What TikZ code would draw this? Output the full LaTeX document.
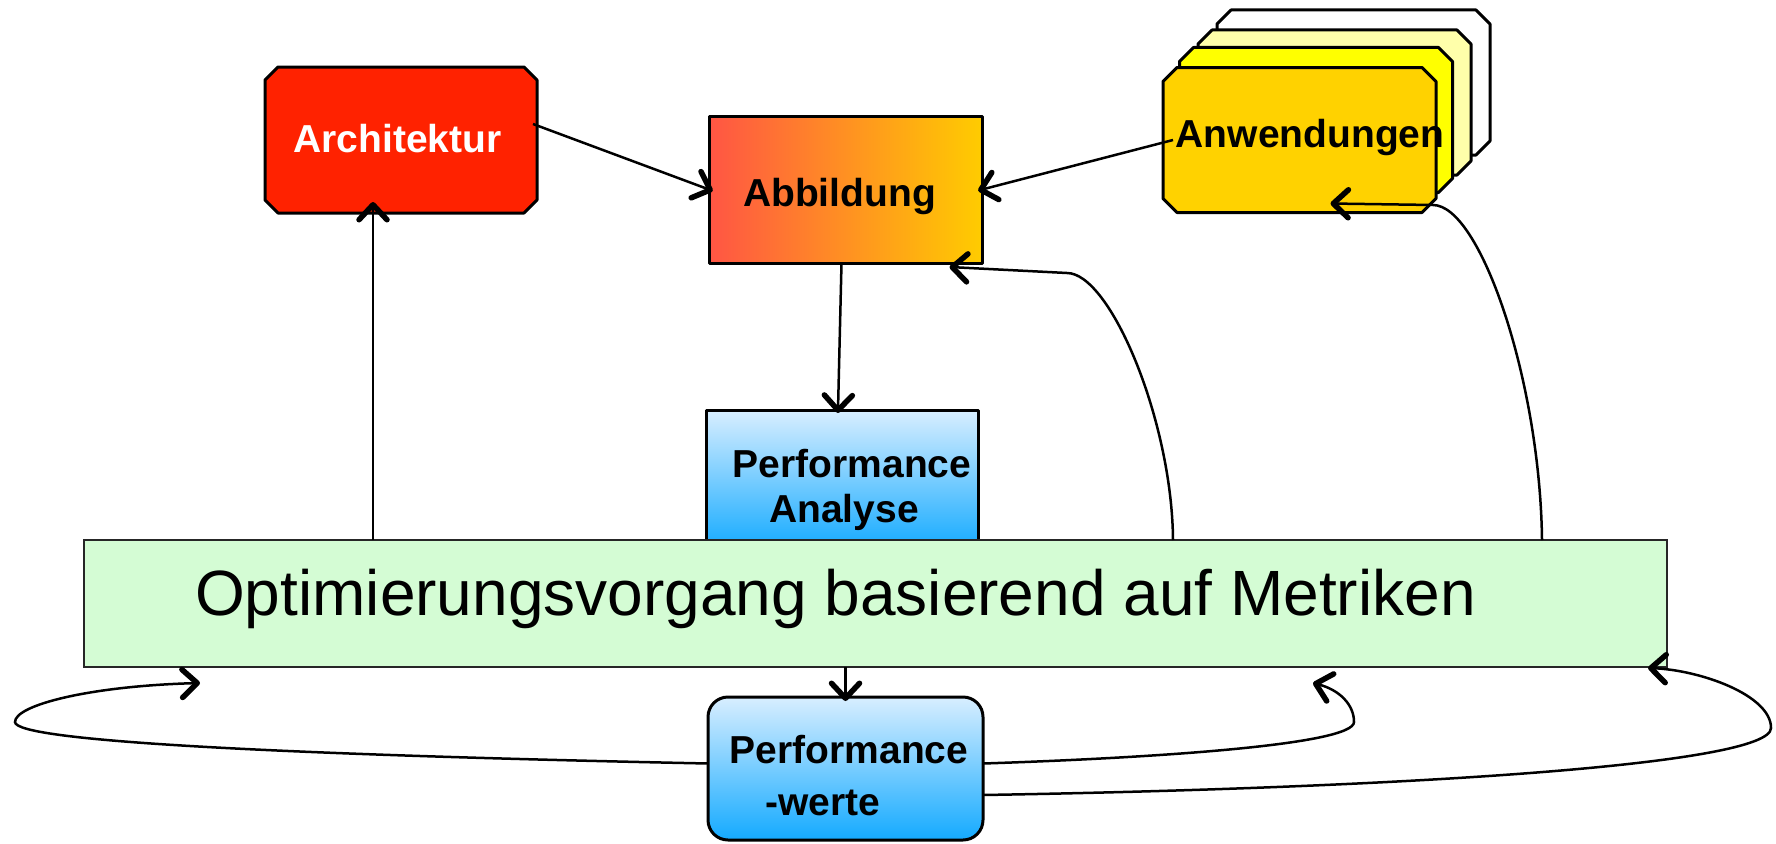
\documentclass[tikz,border=0pt]{standalone}
\usepackage{fontspec}
\setmainfont{Liberation Sans}
\usetikzlibrary{arrows.meta}

\definecolor{archred}{RGB}{255,34,0}
\definecolor{abbleft}{RGB}{255,85,68}
\definecolor{abbright}{RGB}{255,204,0}
\definecolor{anwfront}{RGB}{255,210,0}
\definecolor{anwsecond}{RGB}{255,255,0}
\definecolor{anwthird}{RGB}{255,255,170}
\definecolor{bluetop}{RGB}{216,238,255}
\definecolor{bluebottom}{RGB}{20,170,255}
\definecolor{optgreen}{RGB}{212,252,212}

% outline of a box with cut corners around a named node
\newcommand\chamferpath[3]{%
  \filldraw[boxline, fill=#2]
    ([xshift=#3]#1.north west) -- ([xshift=-#3]#1.north east)
    -- ([yshift=-#3]#1.north east) -- ([yshift=#3]#1.south east)
    -- ([xshift=-#3]#1.south east) -- ([xshift=#3]#1.south west)
    -- ([yshift=#3]#1.south west) -- ([yshift=-#3]#1.north west) -- cycle;}

\begin{document}
\begin{tikzpicture}[x=1pt,y=-1pt,
  slot/.style={inner sep=0pt, outer sep=0pt},
  boxline/.style={draw=black, line width=3pt, line join=round},
  btext/.style={font=\fontsize{39}{45}\selectfont\bfseries, inner sep=0pt},
  conn/.style={draw=black, line width=2.5pt,
    -{Straight Barb[length=15pt,width=28pt,line width'=5.5pt,round]}}]

\useasboundingbox (0,0) rectangle (1776,843);

% frames
\node[slot, minimum width=272pt, minimum height=146pt] (arch) at (401,140) {};
\node[slot, minimum width=273pt, minimum height=145pt] (anw4) at (1353.5,82.5) {};
\node[slot, minimum width=273pt, minimum height=145pt] (anw3) at (1334.5,102.5) {};
\node[slot, minimum width=273pt, minimum height=145pt] (anw2) at (1316,120) {};
\node[slot, minimum width=273pt, minimum height=145pt] (anw) at (1299.5,140) {};

\chamferpath{arch}{archred}{13pt}
\chamferpath{anw4}{white}{14pt}
\chamferpath{anw3}{anwthird}{14pt}
\chamferpath{anw2}{anwsecond}{14pt}
\chamferpath{anw}{anwfront}{14pt}

\node[slot, boxline, minimum width=273pt, minimum height=147pt,
      left color=abbleft, right color=abbright] (abb) at (845.5,189.5) {};
\node[slot, boxline, minimum width=272pt, minimum height=140pt,
      top color=bluetop, bottom color=bluebottom] (pa) at (842,480) {};
\node[slot, draw=black!85, line width=2.5pt, fill=optgreen,
      minimum width=1583pt, minimum height=127pt] (opt) at (875.5,603.5) {};
\node[slot, boxline, rounded corners=20pt, minimum width=275pt, minimum height=143pt,
      top color=bluetop, bottom color=bluebottom] (pw) at (845.5,768.5) {};

% labels
\node[btext, text=white, anchor=base] (archtxt) at (397.5,152) {Architektur};
\node[btext, anchor=base] (abbtxt) at (839.5,206) {Abbildung};
\node[btext, anchor=base] (anwtxt) at (1310,147) {Anwendungen};
\node[btext, anchor=base] (patxt1) at (852,477) {Performance};
\node[btext, anchor=base] (patxt2) at (844,522) {Analyse};
\node[font=\fontsize{64}{70}\selectfont, inner sep=0pt, anchor=base west] (opttxt)
      at (195,615) {Optimierungsvorgang basierend auf Metriken};
\node[btext, anchor=base] (pwtxt1) at (849,763) {Performance};
\node[btext, anchor=base] (pwtxt2) at (822.5,815) {-werte};

% connectors
\draw[conn, shorten >=-4pt] ([xshift=-4pt,yshift=16pt]arch.east) -- (abb.west);
\draw[conn, shorten >=-4pt] ([xshift=10pt]anw.west) -- (abb.east);
\draw[conn, shorten >=-3pt] ([xshift=-4pt]abb.south) -- ([xshift=-4pt]pa.north);
\draw[conn, shorten >=-11pt] ([xshift=108pt]arch.south west |- opt.north)
      -- ([xshift=108pt]arch.south west);
\draw[conn] ([xshift=1089pt]opt.north west)
      .. controls (1172,420) and (1110,273) .. (1067,273)
      -- ([xshift=104pt,yshift=-4pt]abb.south);
\draw[conn] ([xshift=1458pt]opt.north west)
      .. controls (1540,380) and (1480,205) .. (1433,205)
      -- ([xshift=31pt,yshift=9pt]anw.south);
\draw[conn, shorten >=-4pt] (pw.north |- opt.south) -- (pw.north);
\draw[conn] ([yshift=5pt]pw.west)
      .. controls (300,755) and (15,742) .. (15,722)
      .. controls (15,705) and (90,686) .. ([xshift=116pt,yshift=-16pt]opt.south west);
\draw[conn] ([yshift=5pt]pw.east)
      .. controls (1150,758) and (1354,745) .. (1354,722)
      .. controls (1354,705) and (1340,690) .. ([xshift=-354pt,yshift=-16pt]opt.south east);
\draw[conn] ([yshift=-26.5pt]pw.east)
      .. controls (1400,788) and (1771,765) .. (1771,728)
      .. controls (1771,695) and (1700,670) .. ([xshift=-19pt,yshift=-1pt]opt.south east);

\end{tikzpicture}
\end{document}
